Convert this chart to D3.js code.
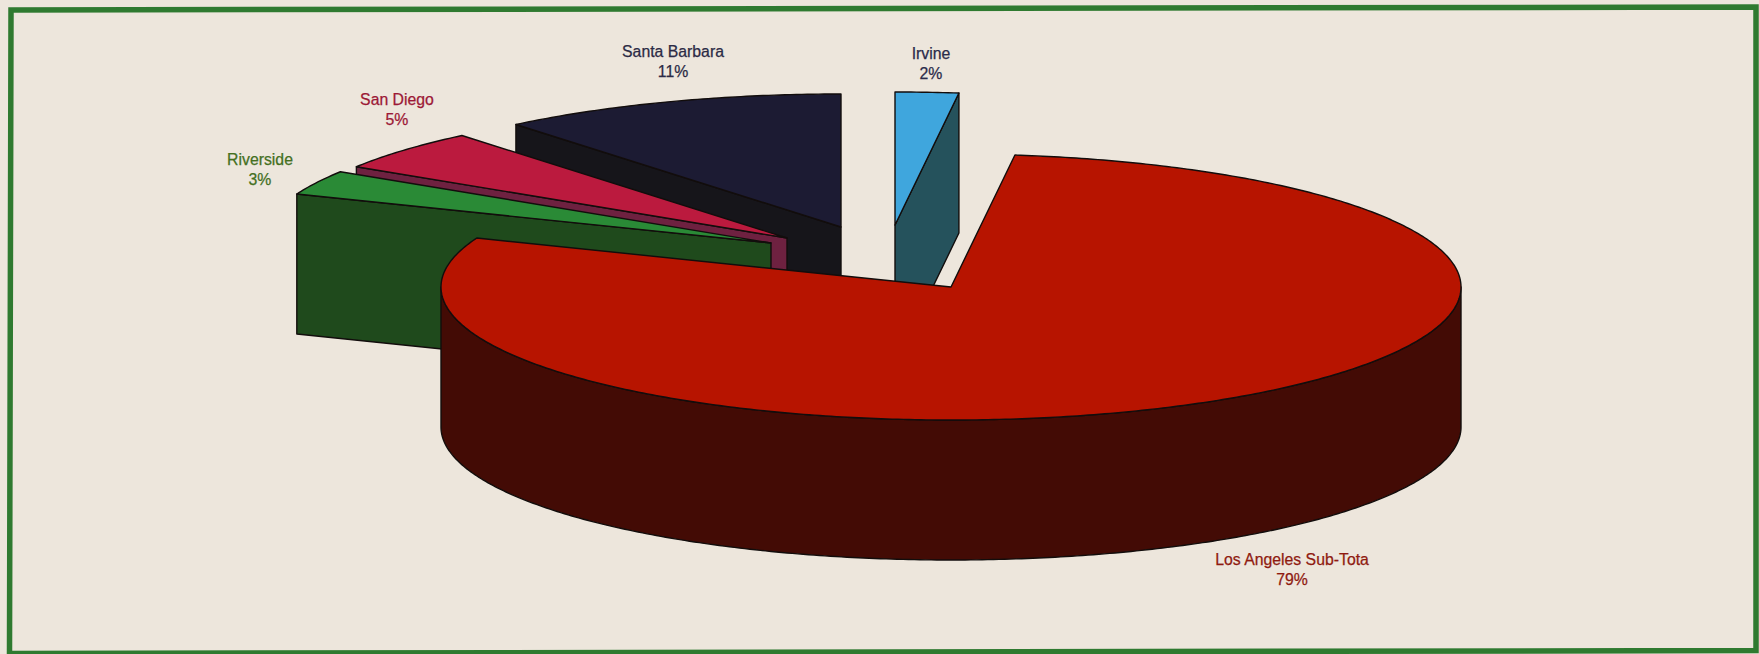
<!DOCTYPE html>
<html>
<head>
<meta charset="utf-8">
<script src="https://cdn.jsdelivr.net/npm/d3@7/dist/d3.min.js"></script>
<style>
  html, body { margin: 0; padding: 0; background: #ede6dc; }
  svg { display: block; }
  text { font-family: "Liberation Sans", Arial, sans-serif; font-size: 15.8px; text-anchor: middle; stroke-width: 0.25px; }
</style>
</head>
<body>
<svg id="chart" width="1759" height="654"></svg>
<script>
// Campus shares, clockwise from twelve o'clock
const campuses = ["Irvine", "Los Angeles Sub-Tota", "Riverside", "San Diego", "Santa Barbara"];
const shares = [2, 79, 3, 5, 11];

// Colours per campus
const topColors = ["#3fa6dd", "#b71400", "#2a8a36", "#bb1a3e", "#1c1b33"];
const wallColors = ["#25525c", "#430b05", "#1f4a1c", "#6e2140", "#16151a"];
const labelColors = ["#2b2b4a", "#8f1a10", "#44701f", "#9c1836", "#2b2a45"];

// Centre of each pulled-out slice's point
const apexX = [895, 951, 771, 787, 841];
const apexY = [225, 287, 243, 238, 227];

// Label centres
const labelX = [931, 1292, 260, 397, 673];
const labelY = [53, 559, 159, 99, 51];

const W = 1759, H = 654;
const radiusX = 510, radiusY = 133, depth = 140;
const drawOrder = [4, 0, 3, 2, 1];

const svg = d3.select("#chart");
const line = d3.line();

// Page and green frame; the frame sits very slightly askew on the page
svg.append("rect").attr("width", W).attr("height", H).attr("fill", "#ede6dc");
svg.append("path")
  .attr("d", line([[11, 10], [1756, 7], [1756, 650.5], [9.5, 653.5]]) + "Z")
  .attr("fill", "none").attr("stroke", "#2f7a30").attr("stroke-width", 5.5);

const arcs = d3.pie().sort(null).startAngle(0).endAngle(2 * Math.PI)(shares);

// Tilted pie projection: unit circle onto an ellipse around a slice's point
const sx = d3.scaleLinear().domain([-1, 1]).range([-radiusX, radiusX]);
const sy = d3.scaleLinear().domain([-1, 1]).range([-radiusY, radiusY]);
const rim = (i, a, dy = 0) => [apexX[i] + sx(Math.sin(a)), apexY[i] - sy(Math.cos(a)) + dy];

function arcPoints(i, a0, a1, dy = 0) {
  const n = Math.max(2, Math.ceil((a1 - a0) * 90));
  return d3.range(n + 1).map(k => rim(i, a0 + (a1 - a0) * k / n, dy));
}

const outline = { stroke: "#120d0c", width: 1.4 };
const paint = (sel, fill) => sel.attr("fill", fill)
  .attr("stroke", outline.stroke).attr("stroke-width", outline.width)
  .attr("stroke-linejoin", "round");

drawOrder.forEach(i => {
  const d = arcs[i];
  const apex = [apexX[i], apexY[i]];
  const g = svg.append("g");

  // Visible cut face of a pulled-out slice
  if (i !== 1) {
    const edge = i === 0 ? d.endAngle : d.startAngle;
    const p = rim(i, edge);
    g.append("path")
      .attr("d", line([apex, p, [p[0], p[1] + depth], [apex[0], apex[1] + depth]]) + "Z")
      .call(paint, wallColors[i]);
  }

  // Front wall along the near half of the rim
  const a0 = Math.max(d.startAngle, Math.PI / 2);
  const a1 = Math.min(d.endAngle, 3 * Math.PI / 2);
  if (a1 > a0) {
    g.append("path")
      .attr("d", line(arcPoints(i, a0, a1).concat(arcPoints(i, a0, a1, depth).reverse())) + "Z")
      .call(paint, wallColors[i]);
  }

  // Top face
  g.append("path")
    .attr("d", line([apex].concat(arcPoints(i, d.startAngle, d.endAngle))) + "Z")
    .call(paint, topColors[i]);
});

// Name and percentage labels
campuses.forEach((name, i) => {
  const t = svg.append("text").attr("fill", labelColors[i]).attr("stroke", labelColors[i]);
  t.append("tspan").attr("x", labelX[i]).attr("y", labelY[i] + 5.5).text(name);
  t.append("tspan").attr("x", labelX[i]).attr("y", labelY[i] + 26).text(shares[i] + "%");
});
</script>
</body>
</html>
